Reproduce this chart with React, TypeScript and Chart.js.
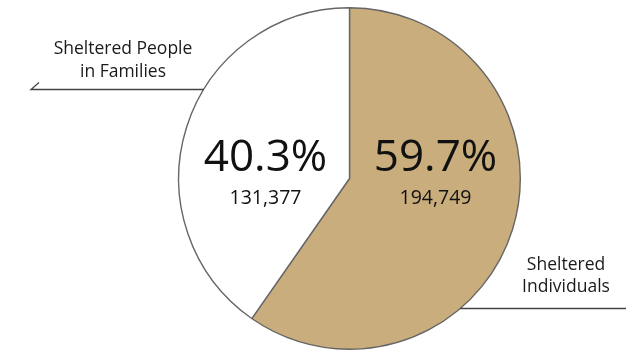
import React, { useEffect, useRef } from "react";
import { Chart, registerables } from "chart.js";

Chart.register(...registerables);

const categories = ["Sheltered Individuals", "Sheltered People in Families"];
const percentages = [59.7, 40.3];
const counts = [194749, 131377];
const sliceColors = ["#c9ad7d", "#ffffff"];
const labelLines = [["Sheltered", "Individuals"], ["Sheltered People", "in Families"]];

const FONT = "'Open Sans', 'Noto Sans', sans-serif";

const overlayPlugin = {
  id: "overlay",
  afterDatasetsDraw(chart: any) {
    const meta = chart.getDatasetMeta(0);
    const arc0 = meta.data[0];
    if (!arc0) return;
    const cx = arc0.x;
    const cy = arc0.y;
    const r = arc0.outerRadius;
    const ctx = chart.ctx;
    ctx.save();
    ctx.fillStyle = "#111";
    ctx.textAlign = "center";
    ctx.textBaseline = "alphabetic";
    const fmt = (n: number) => n.toLocaleString("en-US");
    const inside = [
      { dx: 86, i: 0 },
      { dx: -84, i: 1 },
    ];
    inside.forEach(({ dx, i }) => {
      ctx.font = `44px ${FONT}`;
      ctx.fillText(percentages[i].toFixed(1) + "%", cx + dx, cy - 8);
      ctx.font = `19.5px ${FONT}`;
      ctx.fillText(fmt(counts[i]), cx + dx, cy + 25);
    });

    ctx.strokeStyle = "#444";
    ctx.lineWidth = 1.3;
    const yL = cy - 89;
    const xL = cx - Math.sqrt(r * r - (cy - yL) * (cy - yL));
    ctx.beginPath();
    ctx.moveTo(39, yL - 7);
    ctx.lineTo(31, yL);
    ctx.lineTo(xL, yL);
    ctx.stroke();
    const yR = cy + 130;
    const xR = cx + Math.sqrt(r * r - (yR - cy) * (yR - cy));
    ctx.beginPath();
    ctx.moveTo(xR, yR);
    ctx.lineTo(chart.width, yR);
    ctx.stroke();

    ctx.fillStyle = "#1a1a1a";
    ctx.font = `17.5px ${FONT}`;
    ctx.fillText(labelLines[1][0], 123, yL - 36);
    ctx.fillText(labelLines[1][1], 123, yL - 13);
    ctx.fillText(labelLines[0][0], 566, yR - 39);
    ctx.fillText(labelLines[0][1], 566, yR - 17);
    ctx.restore();
  },
};

export default function App() {
  const ref = useRef<HTMLCanvasElement>(null);
  useEffect(() => {
    if (!ref.current) return;
    const chart = new Chart(ref.current, {
      type: "pie",
      data: {
        labels: categories,
        datasets: [
          {
            data: percentages,
            backgroundColor: sliceColors,
            borderColor: "#666",
            borderWidth: 1.4,
          },
        ],
      },
      options: {
        responsive: false,
        animation: false,
        layout: { padding: { left: 178, right: 105, top: 7, bottom: 1 } },
        plugins: {
          legend: { display: false },
          tooltip: { enabled: false },
        },
      },
      plugins: [overlayPlugin],
    });
    return () => chart.destroy();
  }, []);
  return (
    <div style={{ position: "fixed", left: 0, top: 0, width: 626, height: 351, background: "#fff" }}>
      <canvas ref={ref} width={626} height={351} />
    </div>
  );
}
